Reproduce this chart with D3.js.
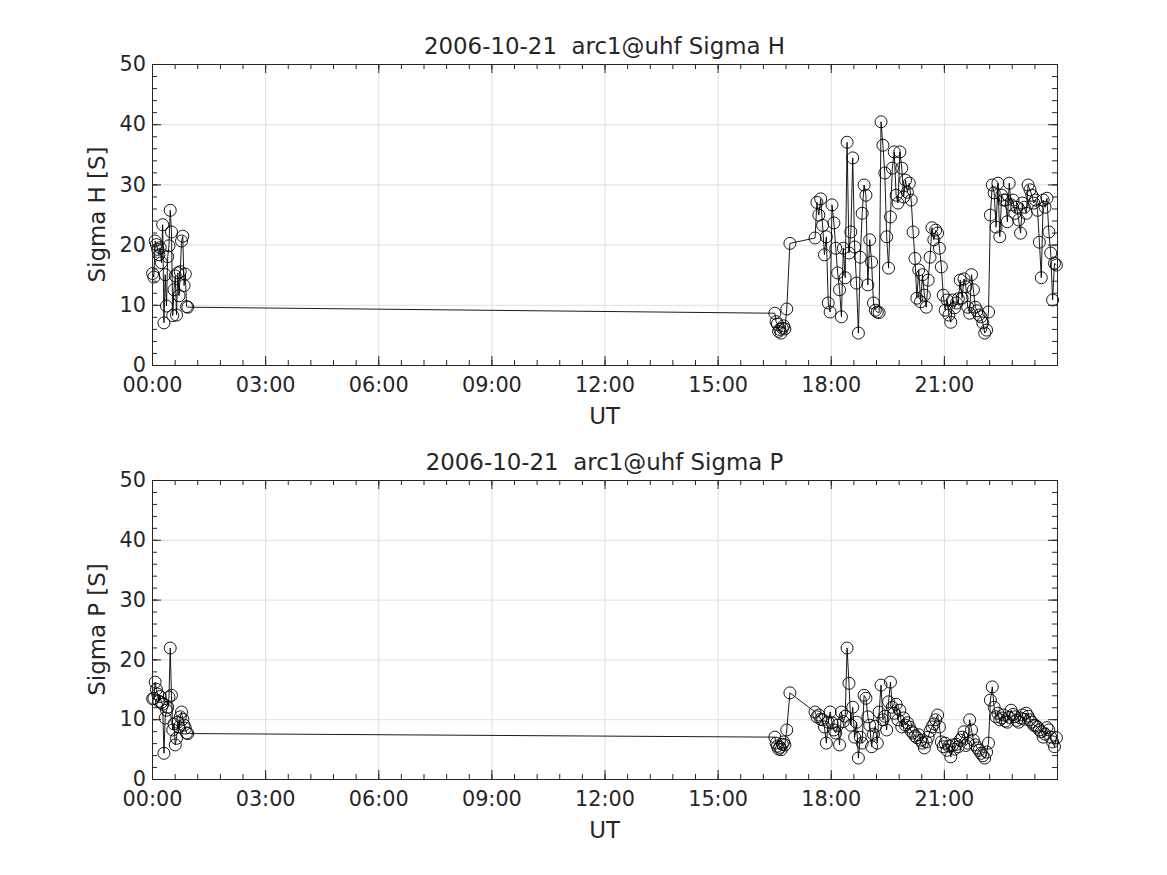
<!DOCTYPE html>
<html>
<head>
<meta charset="utf-8">
<script src="https://cdn.jsdelivr.net/npm/d3@7"></script>
<style>
  body { margin: 0; background: #fff; }
  svg text { font-family: "DejaVu Sans", sans-serif; fill: #262626; }
</style>
</head>
<body>
<div id="plot"></div>
<script>
// UT in minutes of the day
var minutes = [
    1, 3, 5, 7, 9, 11, 13, 15, 17, 19, 21, 23, 25, 27, 29, 31, 33, 35, 37, 39,
    41, 43, 45, 47, 49, 51, 53, 55, 57,
    991, 993, 995, 997, 999, 1001, 1003, 1005, 1007, 1010, 1015,
    1055, 1058, 1061, 1064, 1067, 1070, 1073, 1076, 1079, 1082,
    1085, 1088, 1091, 1094, 1097, 1100, 1103, 1106, 1109, 1112,
    1115, 1118, 1121, 1124, 1127, 1130, 1133, 1136, 1139, 1142,
    1145, 1148, 1151, 1154, 1157, 1160, 1163, 1166, 1169, 1172,
    1175, 1178, 1181, 1184, 1187, 1190, 1193, 1196, 1199, 1202,
    1205, 1208, 1211, 1214, 1217, 1220, 1223, 1226, 1229, 1232,
    1235, 1238, 1241, 1244, 1247, 1250, 1253, 1256, 1259, 1262,
    1265, 1268, 1271, 1274, 1277, 1280, 1283, 1286, 1289, 1292,
    1295, 1298, 1301, 1304, 1307, 1310, 1313, 1316, 1319, 1322,
    1325, 1328, 1331, 1334, 1337, 1340, 1343, 1346, 1349, 1352,
    1355, 1358, 1361, 1364, 1367, 1370, 1373, 1376, 1379, 1382,
    1385, 1388, 1391, 1394, 1397, 1400, 1403, 1406, 1409, 1412,
    1415, 1418, 1421, 1424, 1427, 1430, 1433, 1436, 1439
];

var sigmaH = [
    15.2, 14.6, 20.6, 20.0, 19.2, 18.3, 19.5, 17.0, 23.3, 7.0,
    15.0, 9.8, 18.0, 19.8, 25.7, 22.1, 8.2, 12.5, 14.8, 8.3,
    15.3, 11.5, 15.5, 20.6, 21.4, 13.2, 15.1, 9.7, 9.6,
    8.6, 7.2, 6.8, 5.6, 5.9, 5.3, 6.1, 6.5, 6.0, 9.3, 20.2,
    21.1, 27.0, 24.9, 27.6, 23.2, 18.3, 21.3, 10.3, 8.8, 26.6,
    23.6, 19.4, 15.3, 12.5, 8.0, 19.4, 14.5, 37.0, 18.6, 22.1,
    34.4, 19.6, 13.6, 5.3, 17.9, 25.2, 29.9, 28.2, 13.3, 20.8,
    17.1, 10.3, 9.1, 8.8, 8.7, 40.4, 36.5, 31.9, 21.3, 16.1,
    24.6, 32.7, 35.4, 28.2, 26.9, 35.4, 32.7, 27.9, 30.7, 28.7,
    30.2, 27.4, 22.1, 17.7, 11.1, 15.8, 10.5, 15.0, 11.6, 9.6,
    14.1, 17.9, 22.8, 20.8, 22.4, 21.9, 19.4, 16.3, 11.6, 9.1,
    10.8, 8.3, 7.1, 10.8, 9.5, 10.3, 11.0, 14.1, 11.1, 14.3,
    13.0, 9.6, 8.6, 15.0, 12.5, 9.6, 9.0, 8.3, 8.0, 7.0,
    5.3, 5.8, 8.8, 24.9, 29.9, 28.6, 22.9, 30.2, 21.3, 28.2,
    27.4, 27.4, 23.8, 30.2, 26.6, 27.4, 25.2, 26.2, 24.1, 21.9,
    26.9, 26.2, 25.2, 29.9, 29.1, 28.2, 26.9, 27.4, 25.7, 20.4,
    14.5, 27.4, 26.2, 27.7, 22.1, 18.6, 10.8, 16.9, 16.6
];

var sigmaP = [
    13.4, 13.5, 16.2, 15.0, 14.2, 13.0, 13.8, 12.8, 12.5, 4.3,
    10.2, 11.5, 12.0, 13.7, 21.9, 14.0, 8.2, 9.2, 5.7, 6.8,
    9.5, 8.7, 10.4, 11.2, 10.0, 9.0, 8.5, 7.7, 7.6,
    7.0, 6.0, 5.5, 5.0, 5.3, 4.9, 5.8, 6.2, 5.7, 8.2, 14.4,
    11.2, 10.4, 10.7, 10.0, 9.9, 8.7, 6.0, 9.5, 11.2, 9.4,
    8.2, 7.7, 9.0, 5.7, 11.2, 9.6, 10.5, 21.9, 16.0, 9.0,
    12.0, 7.0, 9.5, 3.5, 7.0, 6.0, 14.0, 13.5, 10.4, 9.0,
    5.4, 7.5, 8.8, 6.0, 11.2, 15.7, 9.9, 10.5, 8.2, 12.9,
    16.2, 12.0, 11.0, 12.5, 9.9, 11.5, 8.7, 10.2, 9.0, 9.4,
    8.7, 8.0, 7.7, 7.2, 6.9, 7.4, 6.5, 6.0, 5.2, 6.2,
    7.0, 8.0, 8.7, 9.2, 9.9, 10.7, 8.7, 6.2, 5.4, 6.0,
    4.8, 5.5, 3.7, 5.7, 5.0, 5.8, 5.4, 6.5, 7.0, 7.9,
    5.6, 6.0, 9.9, 8.2, 6.5, 5.7, 5.2, 4.8, 4.3, 3.9,
    3.5, 4.5, 6.0, 13.2, 15.4, 12.0, 10.4, 11.0, 9.9, 10.2,
    10.7, 9.7, 9.5, 10.3, 11.5, 10.8, 10.4, 9.8, 9.5, 10.2,
    10.7, 10.0, 11.0, 10.5, 9.9, 9.5, 9.0, 8.9, 8.7, 8.2,
    7.9, 7.0, 7.5, 8.6, 8.2, 7.0, 6.2, 5.4, 6.9
];

var xTicks = [0, 180, 360, 540, 720, 900, 1080, 1260];
var xTickLabels = ["00:00", "03:00", "06:00", "09:00", "12:00", "15:00", "18:00", "21:00"];
var yTicks = [0, 10, 20, 30, 40, 50];
var titles = ["2006-10-21  arc1@uhf Sigma H", "2006-10-21  arc1@uhf Sigma P"];
var yLabels = ["Sigma H [S]", "Sigma P [S]"];

var W = 1167, H = 875;
var left = 152, right = 1057;
var panels = [
    {top: 64, bottom: 365, values: sigmaH},
    {top: 480, bottom: 779, values: sigmaP}
];

var svg = d3.select("#plot").append("svg")
    .attr("width", W).attr("height", H)
    .attr("viewBox", "0 0 " + W + " " + H);

var x = d3.scaleLinear().domain([0, 1440]).range([left, right]);
var xMinor = d3.range(0, 1441, 36);
var yMinor = d3.range(0, 51, 2);

panels.forEach(function(p, k) {
    var y = d3.scaleLinear().domain([0, 50]).range([p.bottom, p.top]);
    var h = p.bottom - p.top;
    var g = svg.append("g");

    // grid
    g.append("g")
        .attr("transform", "translate(0," + p.bottom + ")")
        .call(d3.axisBottom(x).tickValues(xTicks).tickSize(-h).tickFormat(""))
        .call(function(a) {
            a.select(".domain").remove();
            a.selectAll("line").attr("stroke", "#dfdfdf");
        });
    g.append("g")
        .attr("transform", "translate(" + left + ",0)")
        .call(d3.axisLeft(y).tickValues(yTicks).tickSize(-(right - left)).tickFormat(""))
        .call(function(a) {
            a.select(".domain").remove();
            a.selectAll("line").attr("stroke", "#dfdfdf");
        });

    // data
    var pts = minutes.map(function(m, i) { return [m, p.values[i]]; });
    var line = d3.line().x(function(d) { return x(d[0]); }).y(function(d) { return y(d[1]); });
    g.append("path")
        .datum(pts)
        .attr("d", line)
        .attr("fill", "none")
        .attr("stroke", "#000")
        .attr("stroke-width", 0.9);
    g.append("g").selectAll("circle")
        .data(pts)
        .join("circle")
            .attr("cx", function(d) { return x(d[0]); })
            .attr("cy", function(d) { return y(d[1]); })
            .attr("r", 6)
            .attr("fill", "none")
            .attr("stroke", "#000")
            .attr("stroke-width", 0.9);

    // axes: major + minor ticks, inward, on all four sides
    function style(a) {
        a.select(".domain").remove();
        a.selectAll("line").attr("stroke", "#262626");
        a.selectAll("text").style("font-size", "20.8px").attr("fill", "#262626");
    }
    g.append("g").attr("transform", "translate(0," + p.bottom + ")")
        .call(d3.axisBottom(x).tickValues(xTicks).tickSize(-9).tickPadding(12)
            .tickFormat(function(d, i) { return xTickLabels[i]; }))
        .call(style);
    g.append("g").attr("transform", "translate(0," + p.bottom + ")")
        .call(d3.axisBottom(x).tickValues(xMinor).tickSize(-5).tickFormat(""))
        .call(style);
    g.append("g").attr("transform", "translate(0," + p.top + ")")
        .call(d3.axisTop(x).tickValues(xTicks).tickSize(-9).tickFormat(""))
        .call(style);
    g.append("g").attr("transform", "translate(0," + p.top + ")")
        .call(d3.axisTop(x).tickValues(xMinor).tickSize(-5).tickFormat(""))
        .call(style);
    g.append("g").attr("transform", "translate(" + left + ",0)")
        .call(d3.axisLeft(y).tickValues(yTicks).tickSize(-9).tickPadding(6))
        .call(style);
    g.append("g").attr("transform", "translate(" + left + ",0)")
        .call(d3.axisLeft(y).tickValues(yMinor).tickSize(-5).tickFormat(""))
        .call(style);
    g.append("g").attr("transform", "translate(" + right + ",0)")
        .call(d3.axisRight(y).tickValues(yTicks).tickSize(-9).tickFormat(""))
        .call(style);
    g.append("g").attr("transform", "translate(" + right + ",0)")
        .call(d3.axisRight(y).tickValues(yMinor).tickSize(-5).tickFormat(""))
        .call(style);

    // box
    g.append("rect")
        .attr("x", left + 0.5).attr("y", p.top + 0.5)
        .attr("width", right - left).attr("height", h)
        .attr("fill", "none").attr("stroke", "#262626");

    // labels
    g.append("text")
        .attr("x", (left + right) / 2).attr("y", p.top - 10)
        .attr("text-anchor", "middle")
        .style("font-size", "22.9px")
        .style("white-space", "pre")
        .attr("fill", "#000")
        .text(titles[k]);
    g.append("text")
        .attr("x", (left + right) / 2).attr("y", p.bottom + 59)
        .attr("text-anchor", "middle")
        .style("font-size", "22.9px")
        .text("UT");
    g.append("text")
        .attr("transform", "translate(105," + (p.top + p.bottom) / 2 + ") rotate(-90)")
        .attr("text-anchor", "middle")
        .style("font-size", "22.9px")
        .text(yLabels[k]);
});
</script>
</body>
</html>
